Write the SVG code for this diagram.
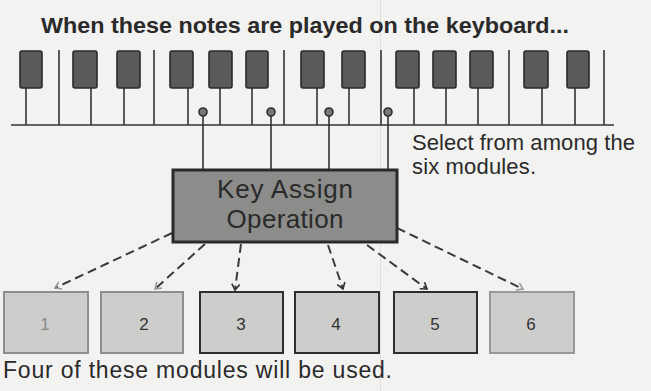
<svg xmlns="http://www.w3.org/2000/svg" width="651" height="391" viewBox="0 0 651 391">
<style>
.t{font-family:"Liberation Sans",Arial,sans-serif;fill:#2a2a2a}
.key{fill:#5a5a5a;stroke:#2a2a2a;stroke-width:1.6}
.ln{stroke:#333;stroke-width:1.6;fill:none}
.dash{stroke:#3a3a3a;stroke-width:2;stroke-dasharray:9 5;fill:none}
.mod{fill:#cdcdcb;stroke-width:2}
.dark{stroke:#2e2e2e}
.light{stroke:#8e8e8e}
.num{font-family:"Liberation Sans",Arial,sans-serif;font-size:17px;fill:#333;text-anchor:middle}
</style>
<defs>
<marker id="ad" markerWidth="10" markerHeight="10" refX="7" refY="4.5" orient="auto" markerUnits="userSpaceOnUse">
<path d="M1,0.5 L7,4.5 L1,8.5" fill="none" stroke="#333" stroke-width="1.6"/>
</marker>
<marker id="al" markerWidth="10" markerHeight="10" refX="7" refY="4.5" orient="auto" markerUnits="userSpaceOnUse">
<path d="M1,0.5 L7,4.5 L1,8.5" fill="none" stroke="#999" stroke-width="1.6"/>
</marker>
</defs>
<rect width="651" height="391" fill="#f2f2f0"/>
<line x1="380.5" y1="0" x2="380.5" y2="391" stroke="#c8c8c6" stroke-width="1" opacity="0.45"/>

<text class="t" x="41" y="33" font-size="22" font-weight="bold" textLength="528" lengthAdjust="spacingAndGlyphs">When these notes are played on the keyboard...</text>

<g id="keyboard">
<g class="ln">
<line x1="11" y1="125" x2="614" y2="125"/>
<line x1="59" y1="50" x2="59" y2="125"/>
<line x1="154" y1="50" x2="154" y2="125"/>
<line x1="284" y1="50" x2="284" y2="125"/>
<line x1="381" y1="50" x2="381" y2="125"/>
<line x1="509" y1="50" x2="509" y2="125"/>
<line x1="604" y1="50" x2="604" y2="125"/>
<line x1="26" y1="88" x2="26" y2="125"/>
<line x1="91" y1="88" x2="91" y2="125"/>
<line x1="124" y1="88" x2="124" y2="125"/>
<line x1="188" y1="88" x2="188" y2="125"/>
<line x1="220" y1="88" x2="220" y2="125"/>
<line x1="252" y1="88" x2="252" y2="125"/>
<line x1="317" y1="88" x2="317" y2="125"/>
<line x1="349" y1="88" x2="349" y2="125"/>
<line x1="414" y1="88" x2="414" y2="125"/>
<line x1="446" y1="88" x2="446" y2="125"/>
<line x1="478" y1="88" x2="478" y2="125"/>
<line x1="542" y1="88" x2="542" y2="125"/>
<line x1="575" y1="88" x2="575" y2="125"/>
</g>
<rect class="key" x="20" y="51" width="22" height="37" rx="2"/>
<rect class="key" x="73" y="51" width="24" height="37" rx="2"/>
<rect class="key" x="117" y="51" width="23" height="37" rx="2"/>
<rect class="key" x="170" y="51" width="23" height="37" rx="2"/>
<rect class="key" x="209" y="51" width="23" height="37" rx="2"/>
<rect class="key" x="246" y="51" width="22" height="37" rx="2"/>
<rect class="key" x="301" y="51" width="23" height="37" rx="2"/>
<rect class="key" x="342" y="51" width="23" height="37" rx="2"/>
<rect class="key" x="396" y="51" width="23" height="37" rx="2"/>
<rect class="key" x="433" y="51" width="23" height="37" rx="2"/>
<rect class="key" x="470" y="51" width="23" height="37" rx="2"/>
<rect class="key" x="524" y="51" width="24" height="37" rx="2"/>
<rect class="key" x="567" y="51" width="22" height="37" rx="2"/>
</g>

<g id="connectors">
<g class="ln">
<line x1="203" y1="112" x2="203" y2="170"/>
<line x1="271" y1="112" x2="271" y2="170"/>
<line x1="329" y1="112" x2="329" y2="170"/>
<line x1="388" y1="112" x2="388" y2="170"/>
</g>
<g fill="#777" stroke="#2e2e2e" stroke-width="1.6">
<circle cx="203" cy="112" r="4"/>
<circle cx="271" cy="112" r="4"/>
<circle cx="329" cy="112" r="4"/>
<circle cx="388" cy="112" r="4"/>
</g>
<line class="dash" x1="172" y1="233" x2="55" y2="288" marker-end="url(#al)"/>
<line class="dash" x1="205" y1="244" x2="155" y2="289" marker-end="url(#al)"/>
<line class="dash" x1="241" y1="244" x2="235" y2="290" marker-end="url(#ad)"/>
<line class="dash" x1="328" y1="245" x2="343" y2="289" marker-end="url(#ad)"/>
<line class="dash" x1="367" y1="245" x2="427" y2="289" marker-end="url(#ad)"/>
<line class="dash" x1="397" y1="228" x2="523" y2="289" marker-end="url(#al)"/>
</g>

<g id="key-assign">
<rect x="173" y="170" width="224" height="72" fill="#8c8c8a" stroke="#2a2a2a" stroke-width="3"/>
<text class="t" x="285" y="198" font-size="26" text-anchor="middle" textLength="136" lengthAdjust="spacing">Key Assign</text>
<text class="t" x="285" y="228" font-size="26" text-anchor="middle" textLength="117" lengthAdjust="spacing">Operation</text>
</g>

<text class="t" x="412" y="150" font-size="22" textLength="223" lengthAdjust="spacing">Select from among the</text>
<text class="t" x="412" y="174" font-size="22" textLength="124" lengthAdjust="spacing">six modules.</text>

<g id="m1"><rect class="mod light" x="4" y="292" width="84" height="61"/><text class="num" x="45" y="330" style="fill:#888">1</text></g>
<g id="m2"><rect class="mod light" x="101" y="292" width="82" height="61"/><text class="num" x="144" y="330">2</text></g>
<g id="m3"><rect class="mod dark" x="200" y="292" width="83" height="61"/><text class="num" x="241" y="330">3</text></g>
<g id="m4"><rect class="mod dark" x="295" y="292" width="84" height="61"/><text class="num" x="336" y="330">4</text></g>
<g id="m5"><rect class="mod dark" x="394" y="292" width="83" height="61"/><text class="num" x="435" y="330">5</text></g>
<g id="m6"><rect class="mod" x="490" y="292" width="84" height="61" stroke="#999" stroke-width="3"/><text class="num" x="531" y="330">6</text></g>

<text class="t" x="3" y="378" font-size="23" textLength="389" lengthAdjust="spacing">Four of these modules will be used.</text>
</svg>
